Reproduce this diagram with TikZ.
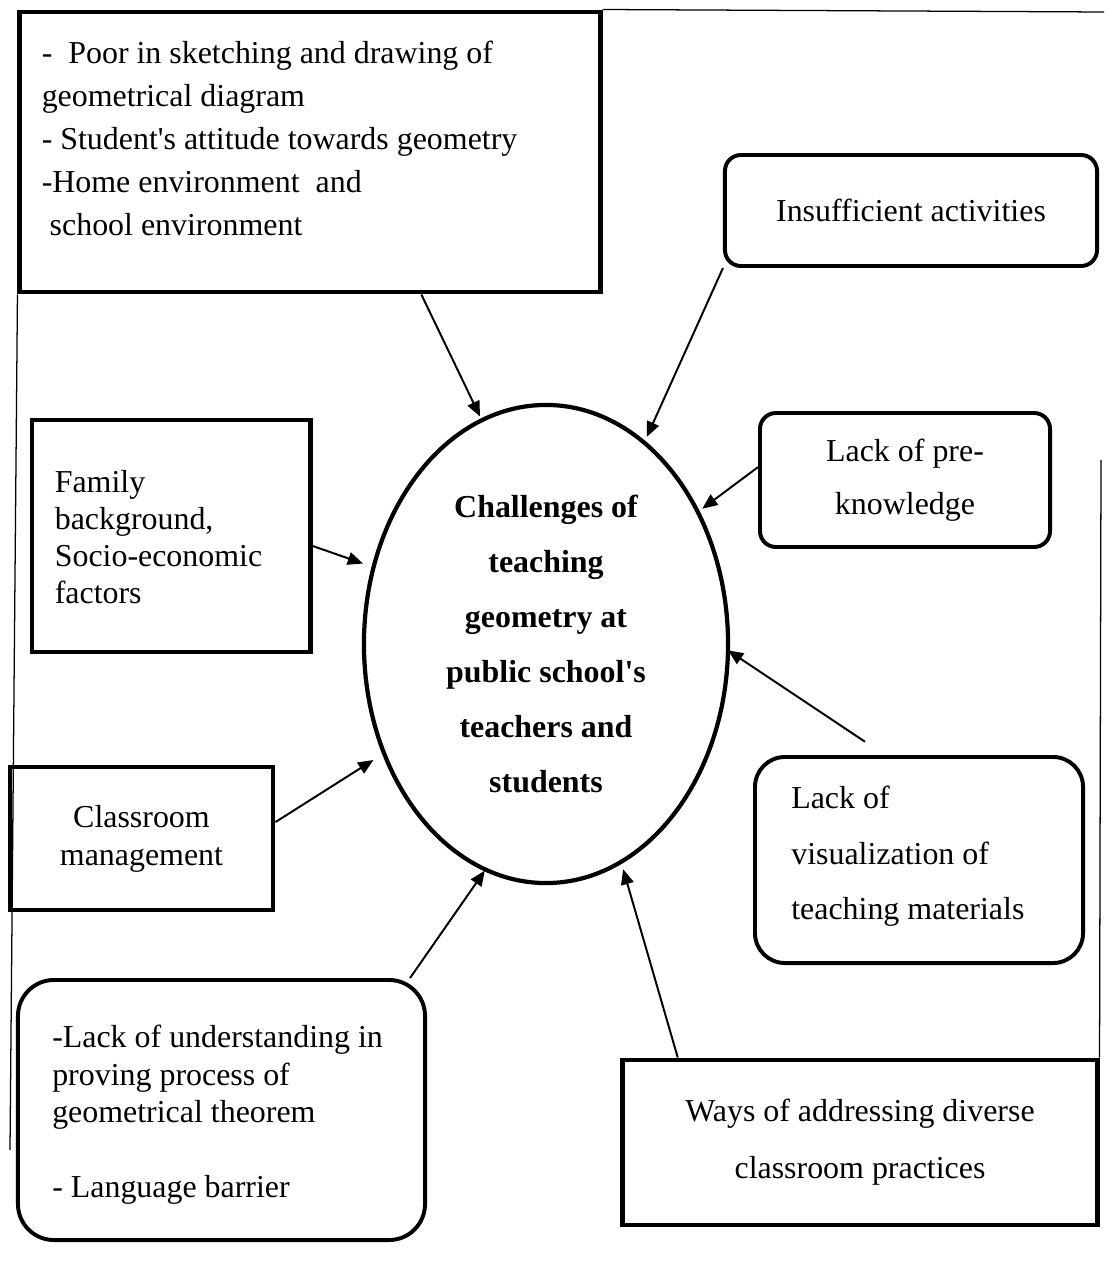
\documentclass[tikz,border=0pt]{standalone}
\usepackage{fontspec}
\setmainfont{Liberation Serif}[Ligatures=TeXOff]
\usetikzlibrary{arrows.meta, positioning, shapes.geometric}

\newcommand{\boxfont}[1]{\fontsize{22.7pt}{#1}\selectfont}

\begin{document}
\begin{tikzpicture}[
    x=0.025cm, y=-0.025cm,
    sqbox/.style={rectangle, draw=black, line width=3.5pt, inner sep=0pt},
    rndbox/.style={rectangle, draw=black, line width=2.8pt, inner sep=0pt, rounded corners=#1},
    rndbox/.default=0.4cm,
    hub/.style={ellipse, draw=black, line width=3pt, inner sep=0pt, outer sep=0pt, align=center},
    boxtext/.style={inner sep=0pt, align=left},
    arrow/.style={line width=1.4pt, -{Triangle[length=0.38cm, width=0.32cm]}},
    frame/.style={line width=0.9pt},
]
    \useasboundingbox (0,0) rectangle (1104,1281);

    % centre
    \node (centre) [hub, minimum width=9.1cm, minimum height=11.95cm,
      font=\boxfont{39.1pt}\bfseries] at (546,644)
      {Challenges of\\ teaching\\ geometry at\\ public school's\\ teachers and\\ students};

    % left side
    \node (top) [sqbox, minimum width=14.5cm, minimum height=7cm] at (310,152) {};
    \node (toptext) [boxtext, font=\boxfont{30.6pt}, below right=0.775cm and 0.6cm of top.north west]
      {-~~Poor in sketching and drawing of\\ geometrical diagram\\ - Student's attitude towards geometry\\ -Home environment~~and\\ ~school environment};

    \node (family) [sqbox, minimum width=6.95cm, minimum height=5.8cm] at (171,536) {};
    \node (familytext) [boxtext, font=\boxfont{26.3pt}, below right=1.315cm and 0.625cm of family.north west]
      {Family\\ background,\\ Socio-economic\\ factors};

    \node (classroom) [sqbox, minimum width=6.575cm, minimum height=3.575cm, align=center,
      font=\boxfont{27pt}] at (141.5,838.5) {Classroom\\ management};

    \node (understand) [rndbox=0.9cm, minimum width=10.175cm, minimum height=6.5cm] at (221.5,1110) {};
    \node (understandtext) [boxtext, font=\boxfont{26.7pt}, below right=1.175cm and 0.9cm of understand.north west]
      {-Lack of understanding in\\ proving process of\\ geometrical theorem\\[26.7pt] - Language barrier};

    % right side
    \node (insuff) [rndbox, minimum width=9.3cm, minimum height=2.775cm, font=\boxfont{26pt}]
      at (911,210.5) {Insufficient activities};

    \node (preknow) [rndbox, minimum width=7.25cm, minimum height=3.35cm, align=center,
      font=\boxfont{37.7pt}] at (905,480) {Lack of pre-\\ knowledge};

    \node (visual) [rndbox=0.75cm, minimum width=8.2cm, minimum height=5.15cm] at (919,860) {};
    \node (visualtext) [boxtext, font=\boxfont{39.5pt}, below right=0.775cm and 0.95cm of visual.north west]
      {Lack of\\ visualization of\\ teaching materials};

    \node (ways) [sqbox, minimum width=11.85cm, minimum height=4.125cm, align=center,
      font=\boxfont{40.5pt}] at (860,1142.5) {Ways of addressing diverse\\ classroom practices};

    % thin frame
    \coordinate (frametr) at (1104,12);
    \coordinate (framebl) at (10,1150);
    \coordinate (framert) at (1101,460);
    \draw [frame] (top.north east) -- (frametr);
    \draw [frame] (top.south west) -- (framebl);
    \draw [frame] (framert) -- (ways.north east);

    % arrows
    \draw [arrow, shorten >=3pt] (top.-52) -- (centre.106.7);
    \draw [arrow, shorten >=4.5pt] (insuff.-163) -- (centre.64.7);
    \draw [arrow, shorten >=4pt] (preknow.175.3) -- (centre.41.9);
    \draw [arrow, shorten <=17pt] (visual.108) -- (centre.-2.5);
    \draw [arrow, shorten >=8pt] (family.-4.5) -- (centre.156.1);
    \draw [arrow, shorten >=9pt] (classroom.7.9) -- (centre.-146.8);
    \draw [arrow, shorten >=1pt] (understand.35.3) -- (centre.-105.1);
    \draw [arrow, shorten >=5.5pt] (ways.155.2) -- (centre.-71.2);

\end{tikzpicture}
\end{document}
